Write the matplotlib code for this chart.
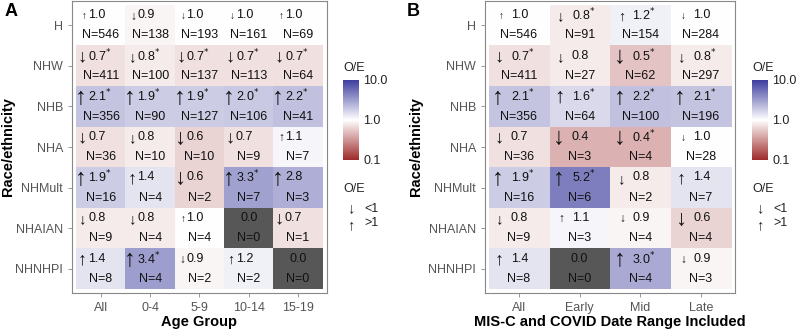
import numpy as np
import matplotlib
matplotlib.use("Agg")
import matplotlib.pyplot as plt
from matplotlib.colors import LinearSegmentedColormap, LogNorm
from matplotlib.cm import ScalarMappable

plt.rcParams['font.family'] = ['Liberation Sans', 'DejaVu Sans']

races = ['H', 'NHW', 'NHB', 'NHA', 'NHMult', 'NHAIAN', 'NHNHPI']

# panel A: age groups
ages = ['All', '0-4', '5-9', '10-14', '15-19']
oe_a = [[1.0, 0.9, 1.0, 1.0, 1.0],
        [0.7, 0.8, 0.7, 0.7, 0.7],
        [2.1, 1.9, 1.9, 2.0, 2.2],
        [0.7, 0.8, 0.6, 0.7, 1.1],
        [1.9, 1.4, 0.6, 3.3, 2.8],
        [0.8, 0.8, 1.0, 0.0, 0.7],
        [1.4, 3.4, 0.9, 1.2, 0.0]]
n_a = [[546, 138, 193, 161, 69],
       [411, 100, 137, 113, 64],
       [356, 90, 127, 106, 41],
       [36, 10, 10, 9, 7],
       [16, 4, 2, 7, 3],
       [9, 4, 4, 0, 1],
       [8, 4, 2, 2, 0]]
up_a = [[1, 0, 0, 0, 1],
        [0, 0, 0, 0, 0],
        [1, 1, 1, 1, 1],
        [0, 0, 0, 0, 1],
        [1, 1, 0, 1, 1],
        [0, 0, 1, 0, 0],
        [1, 1, 0, 1, 0]]
sig_a = [[0, 0, 0, 0, 0],
         [1, 1, 1, 1, 1],
         [1, 1, 1, 1, 1],
         [0, 0, 0, 0, 0],
         [1, 0, 0, 1, 0],
         [0, 0, 0, 0, 0],
         [0, 1, 0, 0, 0]]

# panel B: date ranges
periods = ['All', 'Early', 'Mid', 'Late']
oe_b = [[1.0, 0.8, 1.2, 1.0],
        [0.7, 0.8, 0.5, 0.8],
        [2.1, 1.6, 2.2, 2.1],
        [0.7, 0.4, 0.4, 1.0],
        [1.9, 5.2, 0.8, 1.4],
        [0.8, 1.1, 0.9, 0.6],
        [1.4, 0.0, 3.0, 0.9]]
n_b = [[546, 91, 154, 284],
       [411, 27, 62, 297],
       [356, 64, 100, 196],
       [36, 3, 4, 28],
       [16, 6, 2, 7],
       [9, 3, 4, 4],
       [8, 0, 4, 3]]
up_b = [[1, 0, 1, 0],
        [0, 0, 0, 0],
        [1, 1, 1, 1],
        [0, 0, 0, 0],
        [1, 1, 0, 1],
        [0, 1, 0, 0],
        [1, 0, 1, 0]]
sig_b = [[0, 1, 1, 0],
         [1, 0, 1, 1],
         [1, 1, 1, 1],
         [0, 0, 1, 0],
         [1, 1, 0, 0],
         [0, 0, 0, 0],
         [0, 0, 1, 0]]

cmap = LinearSegmentedColormap.from_list('oe', ['#9e2a2b', '#ffffff', '#3d3d9e'])
cmap.set_bad('#484848')
norm = LogNorm(0.1, 10)


def panel(ax, cols, oe, n, up, sig, xlabel, colw, arr_dx, val_dx, padx, ylab_x):
    oe = np.array(oe, float)
    n = np.array(n)
    data = np.ma.masked_where(n == 0, oe)
    ax.imshow(data, cmap=cmap, norm=norm, aspect='auto', alpha=0.92,
              extent=(-0.5, len(cols) - 0.5, len(races) - 0.5, -0.5),
              interpolation='nearest')
    ax.set_xlim(-0.5 - padx, len(cols) - 0.5 + padx)
    ax.set_ylim(len(races) - 0.5 + 0.1, -0.5 - 0.1)
    for i in range(len(races)):
        for j in range(len(cols)):
            v = oe[i, j]
            if n[i, j] == 0:
                ax.text(j, i - 0.25, '0.0', ha='center', va='center', fontsize=9, color='#111111')
                ax.text(j, i + 0.25, 'N=0', ha='center', va='center', fontsize=9, color='#111111')
                continue
            fs = min(7 + 40 * abs(np.log10(v)), 17)
            ax.text(j + arr_dx / colw, i - 0.22, '↑' if up[i][j] else '↓', ha='right', va='center',
                    fontsize=fs, color='#111111')
            lab = f'{v:.1f}' + ('$^{*}$' if sig[i][j] else '')
            ax.text(j + val_dx / colw, i - 0.25, lab, ha='left', va='center', fontsize=9, color='#111111')
            ax.text(j, i + 0.25, f'N={n[i, j]}', ha='center', va='center', fontsize=9, color='#111111')
    ax.set_xticks(range(len(cols)))
    ax.set_xticklabels(cols)
    ax.set_yticks(range(len(races)))
    ax.set_yticklabels(races)
    ax.tick_params(labelsize=9, labelcolor='#555555', color='#888888', length=3, width=0.6)
    for s in ax.spines.values():
        s.set_color('#888888')
        s.set_linewidth(0.8)
    ax.set_xlabel(xlabel, fontsize=10.5, fontweight='bold', labelpad=1)
    ax.set_ylabel('Race/ethnicity', fontsize=10.5, fontweight='bold')
    ax.yaxis.set_label_coords(ylab_x, 0.5)


def legends(fig, x0):
    W, H = 800, 329
    cax = fig.add_axes([x0 / W, (H - 160) / H, 16 / W, 80 / H])
    cb = fig.colorbar(ScalarMappable(norm=norm, cmap=cmap), cax=cax, ticks=[0.1, 1, 10])
    cb.ax.set_yticklabels(['0.1', '1.0', '10.0'])
    cb.ax.minorticks_off()
    cb.ax.tick_params(length=0, labelsize=9, labelcolor='#222222', pad=3)
    cb.outline.set_visible(False)
    fig.text(x0 / W, (H - 68) / H, 'O/E', fontsize=9, va='center', color='#222222')
    fig.text(x0 / W, (H - 189) / H, 'O/E', fontsize=9, va='center', color='#222222')
    fig.text((x0 + 8) / W, (H - 208) / H, '↓', fontsize=10.5, ha='center', va='center', color='#222222')
    fig.text((x0 + 8) / W, (H - 225) / H, '↑', fontsize=10.5, ha='center', va='center', color='#222222')
    fig.text((x0 + 21) / W, (H - 209) / H, '<1', fontsize=9, va='center', color='#222222')
    fig.text((x0 + 21) / W, (H - 223) / H, '>1', fontsize=9, va='center', color='#222222')


fig = plt.figure(figsize=(8, 3.29), dpi=100)
W, H = 800, 329
ax_a = fig.add_axes([72 / W, (H - 293) / H, 255 / W, 292 / H])
panel(ax_a, ages, oe_a, n_a, up_a, sig_a, 'Age Group', 49.2, -14, -13, 0.09, (15 - 72) / 255)
ax_b = fig.add_axes([485 / W, (H - 293) / H, 250 / W, 292 / H])
panel(ax_b, periods, oe_b, n_b, up_b, sig_b, 'MIS-C and COVID Date Range Included', 60.8, -15, -8, 0.06,
      (423 - 485) / 250)
legends(fig, 343)
legends(fig, 752)
fig.text(5 / W, (H - 11) / H, 'A', fontsize=13, fontweight='bold', va='center')
fig.text(407 / W, (H - 11) / H, 'B', fontsize=13, fontweight='bold', va='center')

fig.savefig('out.png', dpi=100)
